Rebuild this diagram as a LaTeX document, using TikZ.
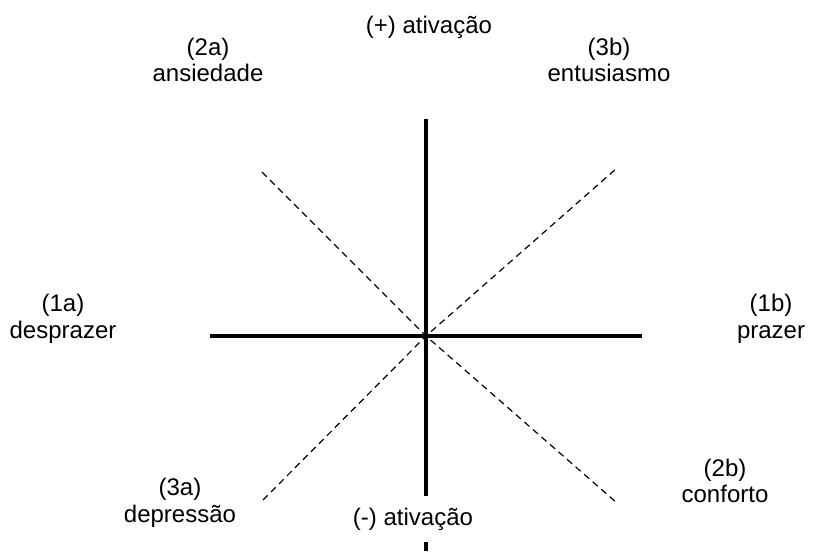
\documentclass[tikz,border=0pt]{standalone}
\usepackage{fontspec}
\setmainfont{Liberation Sans}
\usetikzlibrary{positioning}
\tikzset{
  axis/.style={line width=3pt,draw=black},
  diag/.style={line width=0.9pt,dash pattern=on 5pt off 3.5pt,draw=black},
  lbl/.style={align=center,font=\fontsize{18}{20}\selectfont,inner sep=0pt}
}

\begin{document}
\begin{tikzpicture}[x=0.75pt,y=-0.75pt]
  \useasboundingbox (0,0) rectangle (823,551);
  \coordinate (c) at (426,336);
  \coordinate (top) at (426,119);
  \coordinate (bot) at (426,551);
  \coordinate (left) at (210,336);
  \coordinate (right) at (642,336);
  \coordinate (ul) at (262,172);
  \coordinate (ll) at (263,500);
  \coordinate (ur) at (617,168);
  \coordinate (lr) at (617,503);
  \draw[diag] (ul) -- (c) -- (lr);
  \draw[diag] (ll) -- (c) -- (ur);
  \draw[axis] (top) -- (bot);
  \draw[axis] (left) -- (right);
  \node[lbl] (act) at (429,27) {(+) ativação};
  \node[lbl] (anx) at (208,60) {(2a)\\ansiedade};
  \node[lbl] (ent) at (609,60) {(3b)\\entusiasmo};
  \node[lbl] (dsp) at (63,319) {(1a)\\desprazer};
  \node[lbl] (prz) at (771,319) {(1b)\\prazer};
  \node[lbl] (dep) at (180,503) {(3a)\\depressão};
  \node[lbl] (cnf) at (725,481) {(2b)\\conforto};
  \node[lbl,fill=white,inner xsep=2pt,inner ysep=9pt] (deact) at (413,519) {(-) ativação};
\end{tikzpicture}
\end{document}
